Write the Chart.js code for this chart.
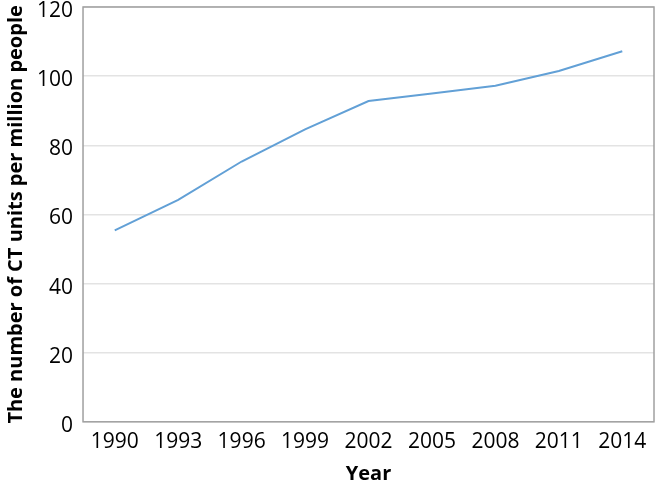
<!DOCTYPE html>
<html>
<head>
<meta charset="utf-8">
<script src="https://cdn.jsdelivr.net/npm/chart.js@4"></script>
<style>
  html, body { margin: 0; padding: 0; background: #fff; }
  #wrap { width: 657px; height: 484px; }
</style>
</head>
<body>
<div id="wrap"><canvas id="ctChart"></canvas></div>
<script>
// data
var years = ['1990', '1993', '1996', '1999', '2002', '2005', '2008', '2011', '2014'];
var ctUnits = [55.4, 64.2, 75.3, 84.6, 92.8, 95.0, 97.2, 101.5, 107.2];
var yTicks = [0, 20, 40, 60, 80, 100, 120];

// box round the plot area
var frame = {
  id: 'frame',
  afterDraw: function(chart) {
    var a = chart.chartArea, c = chart.ctx;
    c.save();
    c.strokeStyle = '#a0a0a0';
    c.lineWidth = 1.5;
    c.strokeRect(a.left, a.top, a.right - a.left, a.bottom - a.top);
    c.restore();
  }
};

document.addEventListener('DOMContentLoaded', function() {
  var ctx = document.getElementById('ctChart').getContext('2d');
  new Chart(ctx, {
    type: 'line',
    data: {
      labels: years,
      datasets: [{
        data: ctUnits,
        borderColor: '#62a0d6',
        borderWidth: 2,
        pointRadius: 0,
        tension: 0,
        fill: false
      }]
    },
    options: {
      responsive: true,
      maintainAspectRatio: false,
      animation: false,
      layout: { padding: { top: 7, right: 3, left: 0, bottom: 0 } },
      plugins: { legend: { display: false }, tooltip: { enabled: false } },
      scales: {
        x: {
          offset: true,
          grid: { display: false, drawTicks: false },
          border: { display: false },
          ticks: { color: '#000', font: { family: 'Open Sans', size: 21 }, padding: 8, maxRotation: 0, autoSkip: false },
          title: { display: true, text: 'Year', color: '#000', font: { family: 'Open Sans', size: 20, weight: 'bold', lineHeight: 1.0 }, padding: { top: 1, bottom: 0 } }
        },
        y: {
          min: 0,
          max: 120,
          afterBuildTicks: function(axis) { axis.ticks = yTicks.map(function(v) { return { value: v }; }); },
          afterFit: function(axis) { axis.paddingTop = 0; },
          grid: { color: '#e3e3e3', lineWidth: 1.5, drawTicks: false },
          border: { display: false },
          ticks: { color: '#000', font: { family: 'Open Sans', size: 21 }, padding: 10, labelOffset: 4 },
          title: { display: true, text: 'The number of CT units per million people', color: '#000', font: { family: 'Open Sans', size: 20, weight: 'bold', lineHeight: 1.1 }, padding: { top: 5, bottom: 0 } }
        }
      }
    },
    plugins: [frame]
  });
});
</script>
</body>
</html>
